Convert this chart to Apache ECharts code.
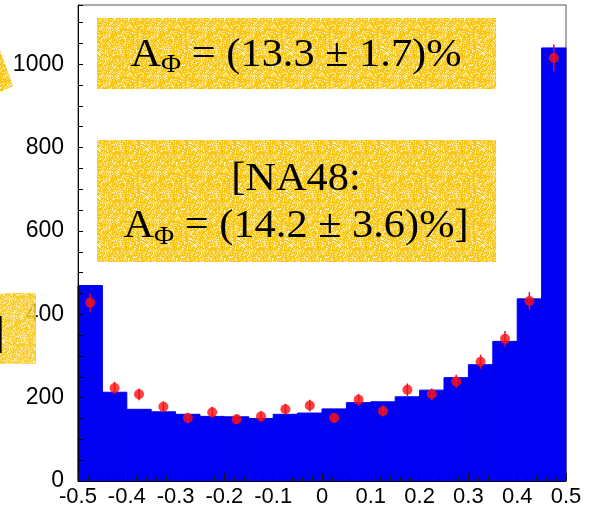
<!DOCTYPE html>
<html>
<head>
<meta charset="utf-8">
<script src="https://cdn.jsdelivr.net/npm/echarts@6/dist/echarts.min.js"></script>
<style>
  html, body { margin: 0; padding: 0; background: #fff; }
  #chart { width: 594px; height: 509px; }
</style>
</head>
<body>
<div id="chart"></div>
<script>
// Histogram bin edges (20 bins of width 0.05)
const binEdges = [-0.5, -0.45, -0.4, -0.35, -0.3, -0.25, -0.2, -0.15, -0.1, -0.05,
                  0, 0.05, 0.1, 0.15, 0.2, 0.25, 0.3, 0.35, 0.4, 0.45, 0.5];
// Monte Carlo expectation (filled blue histogram)
const mcCounts = [469, 213, 172, 166, 160, 155, 154, 150, 160, 163,
                  173, 188, 190, 202, 218, 248, 279, 335, 437, 1039];
// Measured data points and their uncertainties
const dataCounts = [428, 223, 208, 178, 151, 165, 148, 155, 172, 181,
                    151, 195, 168, 219, 208, 239, 286, 341, 432, 1015];
const dataErrors = [22, 15, 14, 13, 13, 13, 12, 13, 13, 14,
                    12, 14, 13, 15, 14, 16, 17, 19, 21, 32];
// Axis ticks
const xTicks = [-0.5, -0.4, -0.3, -0.2, -0.1, 0, 0.1, 0.2, 0.3, 0.4, 0.5];
const yTicks = [0, 200, 400, 600, 800, 1000];

const histData = mcCounts.map((v, i) => [binEdges[i], binEdges[i + 1], v]);
const pointData = dataCounts.map((v, i) => [(binEdges[i] + binEdges[i + 1]) / 2, v, dataErrors[i]]);

// Speckled yellow texture for the annotation boxes
function makeTexture() {
  const c = document.createElement('canvas');
  c.width = 48; c.height = 48;
  const g = c.getContext('2d');
  g.fillStyle = '#F7C713';
  g.fillRect(0, 0, 48, 48);
  function hash(x, y) {
    let n = Math.imul(x, 374761393) + Math.imul(y, 668265263);
    n = Math.imul(n ^ (n >>> 13), 1274126177);
    return ((n ^ (n >>> 16)) >>> 0) / 4294967296;
  }
  for (let y = 0; y < 48; y++) {
    for (let x = 0; x < 48; x++) {
      const h = hash(x, y);
      const row = (y % 8 === 3) ? 0.25 : 0;
      if (h < 0.32 + row) {
        g.fillStyle = h < 0.12 ? '#FFF3C8' : '#FCE07A';
        g.fillRect(x, y, 1, 1);
      }
    }
  }
  return c;
}
const tex = makeTexture();
const boxFill = { image: tex, repeat: 'repeat' };

const serif = '"Liberation Serif", "DejaVu Serif", serif';
const sans = '"Liberation Sans", Arial, sans-serif';
const richStyle = {
  m: { fontSize: 40, fontFamily: serif, lineHeight: 47, color: '#000' },
  s: { fontSize: 26, fontFamily: serif, lineHeight: 24, verticalAlign: 'bottom', color: '#000' }
};

const chart = echarts.init(document.getElementById('chart'));
chart.setOption({
  animation: false,
  grid: { left: 78, right: 28, top: 5, bottom: 28, show: true, borderColor: '#555', borderWidth: 1, backgroundColor: 'transparent' },
  xAxis: {
    type: 'value', min: -0.5, max: 0.5, interval: 0.1, z: 5,
    axisLine: { show: true, onZero: false, lineStyle: { color: '#000', width: 1 } },
    axisTick: { show: true, inside: true, length: 8, lineStyle: { color: '#111' } },
    minorTick: { show: true, splitNumber: 5, length: 4, lineStyle: { color: '#111' } },
    splitLine: { show: false },
    axisLabel: {
      margin: 5, fontSize: 22, color: '#000', fontFamily: sans,
      formatter: v => {
        const r = Math.round(v * 10) / 10;
        return xTicks.some(t => Math.abs(t - r) < 1e-9) ? String(r) : '';
      }
    }
  },
  yAxis: {
    type: 'value', min: 0, max: 1142, interval: 200, z: 5,
    axisLine: { show: true, onZero: false, lineStyle: { color: '#000', width: 1 } },
    axisTick: { show: true, inside: true, length: 5, lineStyle: { color: '#000' } },
    minorTick: { show: true, splitNumber: 4, length: 5, lineStyle: { color: '#000' } },
    splitLine: { show: false },
    axisLabel: {
      margin: 14, fontSize: 23, color: '#000', fontFamily: sans,
      showMaxLabel: false,
      formatter: v => (yTicks.indexOf(Math.round(v)) >= 0 ? String(Math.round(v)) : '')
    }
  },
  series: [
    {
      type: 'custom', name: 'MC', z: 2,
      data: histData,
      renderItem: (params, api) => {
        const p0 = api.coord([api.value(0), 0]);
        const p1 = api.coord([api.value(1), api.value(2)]);
        return {
          type: 'rect',
          shape: { x: p0[0], y: p1[1], width: p1[0] - p0[0], height: p0[1] - p1[1] },
          style: { fill: '#0000F2', stroke: '#0000F2', lineWidth: 1 }
        };
      }
    },
    {
      type: 'custom', name: 'errors', z: 3,
      data: pointData,
      renderItem: (params, api) => {
        const x = api.value(0), y = api.value(1), e = api.value(2);
        const lo = api.coord([x, y - e]);
        const hi = api.coord([x, y + e]);
        return {
          type: 'line',
          shape: { x1: lo[0], y1: lo[1], x2: hi[0], y2: hi[1] },
          style: { stroke: '#D2103A', lineWidth: 1.5 }
        };
      }
    },
    {
      type: 'scatter', name: 'Data', z: 4,
      data: pointData.map(p => [p[0], p[1]]),
      symbol: 'circle', symbolSize: 10,
      itemStyle: { color: '#FF1010' }
    }
  ],
  graphic: [
    { type: 'polygon', z: 100, shape: { points: [[0, 50], [13, 86], [0, 92]] }, style: { fill: boxFill } },
    { type: 'rect', z: 100, shape: { x: 0, y: 293, width: 36, height: 71 }, style: { fill: boxFill, opacity: 0.88 } },
    { type: 'text', z: 101, style: { x: 5, y: 335, text: ']', font: '44px ' + serif, fill: '#000', align: 'right', verticalAlign: 'middle' } },
    { type: 'rect', z: 100, shape: { x: 97, y: 18, width: 399, height: 71 }, style: { fill: boxFill } },
    {
      type: 'text', z: 101, x: 296, y: 55, scaleX: 1.06,
      style: { x: 0, y: 0, text: '{m|A}{s|Φ}{m| = (13.3 ± 1.7)%}', rich: richStyle, align: 'center', verticalAlign: 'middle' }
    },
    { type: 'rect', z: 100, shape: { x: 97, y: 140, width: 399, height: 122 }, style: { fill: boxFill } },
    {
      type: 'text', z: 101, x: 296, y: 203, scaleX: 1.06,
      style: { x: 0, y: 0, text: '{m|[NA48:}\n{m|A}{s|Φ}{m| = (14.2 ± 3.6)%]}', rich: richStyle, align: 'center', verticalAlign: 'middle' }
    }
  ]
});
</script>
</body>
</html>
